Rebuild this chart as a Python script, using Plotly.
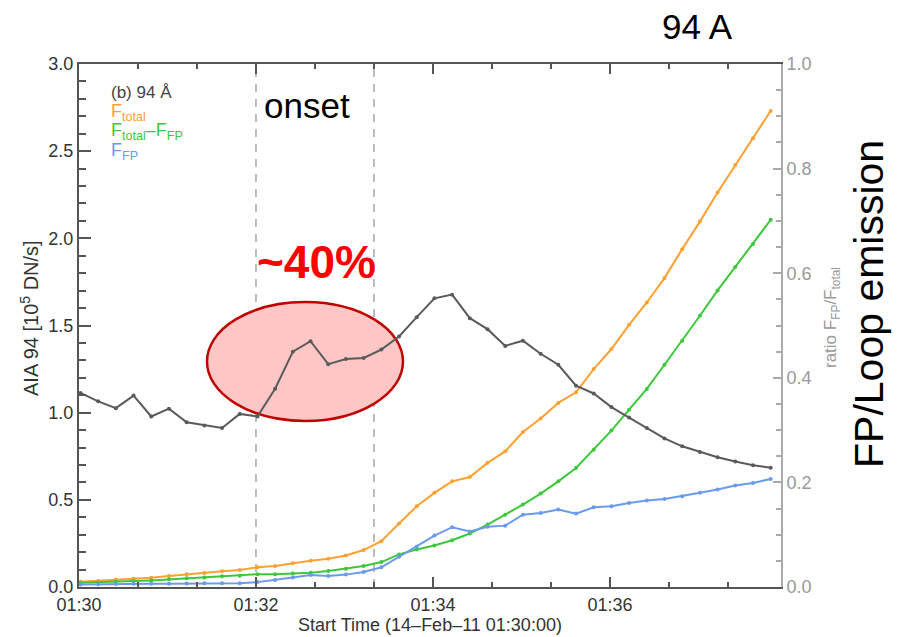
import plotly.graph_objects as go

# ---------------- data ----------------
time_labels = [
    "01:30:01", "01:30:13", "01:30:25", "01:30:37", "01:30:49",
    "01:31:01", "01:31:13", "01:31:25", "01:31:37", "01:31:49",
    "01:32:01", "01:32:13", "01:32:25", "01:32:37", "01:32:49",
    "01:33:01", "01:33:13", "01:33:25", "01:33:37", "01:33:49",
    "01:34:01", "01:34:13", "01:34:25", "01:34:37", "01:34:49",
    "01:35:01", "01:35:13", "01:35:25", "01:35:37", "01:35:49",
    "01:36:01", "01:36:13", "01:36:25", "01:36:37", "01:36:49",
    "01:37:01", "01:37:13", "01:37:25", "01:37:37", "01:37:49",
]
f_total = [0.030, 0.034, 0.042, 0.048, 0.053, 0.063, 0.073, 0.080, 0.090, 0.098,
           0.113, 0.120, 0.136, 0.151, 0.162, 0.181, 0.212, 0.263, 0.364, 0.463,
           0.540, 0.606, 0.631, 0.712, 0.778, 0.889, 0.966, 1.056, 1.117, 1.250,
           1.365, 1.504, 1.632, 1.772, 1.938, 2.096, 2.263, 2.421, 2.574, 2.731]
f_loop = [0.024, 0.026, 0.030, 0.034, 0.038, 0.044, 0.050, 0.055, 0.061, 0.065,
          0.073, 0.073, 0.078, 0.082, 0.092, 0.105, 0.120, 0.143, 0.187, 0.215,
          0.238, 0.268, 0.307, 0.358, 0.415, 0.473, 0.536, 0.606, 0.683, 0.788,
          0.897, 1.017, 1.136, 1.275, 1.413, 1.556, 1.701, 1.835, 1.968, 2.106]
f_fp = [0.014, 0.016, 0.017, 0.018, 0.018, 0.019, 0.020, 0.021, 0.022, 0.022,
        0.028, 0.040, 0.055, 0.069, 0.063, 0.071, 0.086, 0.113, 0.174, 0.231,
        0.295, 0.343, 0.318, 0.345, 0.352, 0.415, 0.425, 0.444, 0.421, 0.457,
        0.463, 0.482, 0.496, 0.505, 0.521, 0.540, 0.559, 0.582, 0.597, 0.620]
ratio = [0.371, 0.355, 0.342, 0.366, 0.326, 0.341, 0.315, 0.309, 0.304, 0.331,
         0.326, 0.379, 0.450, 0.470, 0.426, 0.436, 0.438, 0.454, 0.479, 0.516,
         0.552, 0.559, 0.514, 0.493, 0.461, 0.471, 0.446, 0.425, 0.385, 0.370,
         0.344, 0.324, 0.304, 0.284, 0.269, 0.258, 0.248, 0.240, 0.233, 0.228]
x_tick_labels = ["01:30", "01:32", "01:34", "01:36"]
onset_times = ["01:32:00", "01:33:20"]
DATE = "2011-02-14 "

times = [DATE + t for t in time_labels]

# ---------------- styles ----------------
ORANGE = "#FFA033"
GREEN = "#3CC83C"
BLUE = "#6A9AEE"
GRAY = "#5A5A5A"
AX = "#555555"
AX2 = "#AAAAAA"
FONT = "Liberation Sans, Arial, sans-serif"

# plot area in pixels (for placing free text)
L, R, T, B = 79, 781, 64, 587


def px(x):
    return (x - L) / (R - L)


def py(y):
    return (B - y) / (B - T)


fig = go.Figure()
for vals, col, nm in [(f_total, ORANGE, "F_total"),
                      (f_loop, GREEN, "F_total-F_FP"),
                      (f_fp, BLUE, "F_FP")]:
    fig.add_trace(go.Scatter(x=times, y=vals, mode="lines+markers", name=nm,
                             line=dict(color=col, width=2),
                             marker=dict(color=col, size=4),
                             showlegend=False))
fig.add_trace(go.Scatter(x=times, y=ratio, mode="lines+markers", name="ratio",
                         yaxis="y2", line=dict(color=GRAY, width=2),
                         marker=dict(color=GRAY, size=4), showlegend=False))

shapes = []
for t in onset_times:
    shapes.append(dict(type="line", xref="x", yref="paper",
                       x0=DATE + t, x1=DATE + t, y0=0, y1=1, layer="below",
                       line=dict(color="#A8A8A8", width=1.5, dash="8px,7px")))
shapes.append(dict(type="circle", xref="paper", yref="paper",
                   x0=px(207), x1=px(403), y0=py(421), y1=py(302),
                   layer="below", fillcolor="#FFC6C6",
                   line=dict(color="#C00000", width=2.5)))

annotations = [
    dict(text="94 A", x=px(697), y=py(27), font=dict(size=35, color="black")),
    dict(text="onset", x=px(307), y=py(106), font=dict(size=35, color="black")),
    dict(text="<b>~40%</b>", x=px(316), y=py(262), font=dict(size=46, color="#FF0000")),
    dict(text="FP/Loop emission", x=px(869), y=py(304), textangle=-90,
         font=dict(size=41, color="black")),
    dict(text="AIA 94 [10<sup>5</sup> DN/s]", x=px(29), y=py(318), textangle=-90,
         font=dict(size=20, color="#333333")),
    dict(text="ratio F<sub>FP</sub>/F<sub>total</sub>", x=px(832), y=py(318),
         textangle=-90, font=dict(size=17, color="#999999")),
    dict(text="(b) 94 Å", x=px(109), y=py(93), xanchor="left",
         font=dict(size=17, color="#444444")),
    dict(text="F<sub>total</sub>", x=px(109), y=py(113), xanchor="left",
         font=dict(size=18, color=ORANGE)),
    dict(text="F<sub>total</sub>–F<sub>FP</sub>", x=px(109), y=py(132), xanchor="left",
         font=dict(size=18, color=GREEN)),
    dict(text="F<sub>FP</sub>", x=px(109), y=py(151), xanchor="left",
         font=dict(size=18, color=BLUE)),
]
for a in annotations:
    a.setdefault("xanchor", "center")
    a.update(xref="paper", yref="paper", yanchor="middle", showarrow=False)
    a["font"]["family"] = FONT

fig.update_layout(
    width=899, height=637,
    margin=dict(l=L, r=899 - R, t=T, b=637 - B),
    paper_bgcolor="white", plot_bgcolor="rgba(0,0,0,0)",
    font=dict(family=FONT, color="#333333"),
    shapes=shapes, annotations=annotations,
    xaxis=dict(
        type="date",
        range=[DATE + "01:30:00", DATE + "01:37:56"],
        tickvals=[DATE + t for t in x_tick_labels], ticktext=x_tick_labels,
        ticks="inside", ticklen=10, tickwidth=1.5, tickcolor=AX,
        minor=dict(dtick=40000, tick0=DATE + "01:30:00", ticks="inside",
                   ticklen=5, tickwidth=1.5, tickcolor=AX, showgrid=False),
        showline=True, linecolor=AX, linewidth=2, mirror="ticks",
        showgrid=False, zeroline=False, automargin=False,
        tickfont=dict(size=18, color="#333333"),
        title=dict(text="Start Time (14–Feb–11 01:30:00)", standoff=2,
                   font=dict(size=18, color="#333333")),
    ),
    yaxis=dict(
        range=[0, 3], dtick=0.5, tick0=0, tickformat=".1f",
        ticks="inside", ticklen=12, tickwidth=1.5, tickcolor=AX,
        minor=dict(dtick=0.1, ticks="inside", ticklen=7, tickwidth=1.5,
                   tickcolor=AX, showgrid=False),
        showline=True, linecolor=AX, linewidth=2,
        showgrid=False, zeroline=False, automargin=False,
        tickfont=dict(size=18, color="#333333"),
    ),
    yaxis2=dict(
        overlaying="y", side="right",
        range=[0, 1], dtick=0.2, tick0=0, tickformat=".1f",
        ticks="inside", ticklen=8, tickwidth=1.5, tickcolor=AX2,
        minor=dict(dtick=0.05, ticks="inside", ticklen=5, tickwidth=1.5,
                   tickcolor=AX2, showgrid=False),
        showline=True, linecolor=AX2, linewidth=2,
        showgrid=False, zeroline=False, automargin=False,
        tickfont=dict(size=18, color="#999999"),
    ),
)

fig.write_html("out.html", config={"displayModeBar": False},
               post_script="document.body.style.margin='0';"
                           "document.body.style.overflow='hidden';")
